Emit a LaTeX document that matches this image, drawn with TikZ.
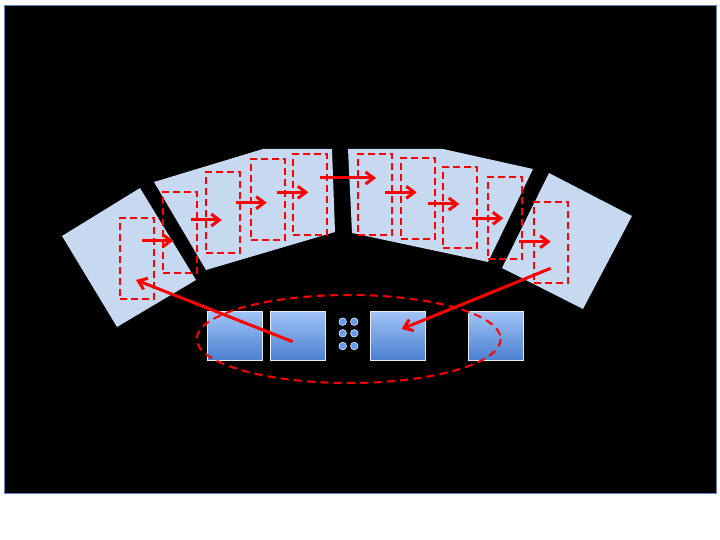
\documentclass[tikz,border=0pt]{standalone}
\usetikzlibrary{arrows.meta,positioning}
\definecolor{panelblue}{RGB}{198,217,240}
\definecolor{frameblue}{RGB}{95,130,190}
\definecolor{boxtop}{RGB}{162,196,246}
\definecolor{boxbot}{RGB}{74,128,208}
\definecolor{dotblue}{RGB}{105,155,232}
\begin{document}
\begin{tikzpicture}[x=1pt,y=-1pt,line join=miter,
	stage/.style={draw=red,dash pattern=on 7pt off 4pt,line width=2pt,minimum width=34pt,minimum height=81pt,inner sep=0pt},
	unit/.style={draw=white!85!gray,line width=1pt,top color=boxtop,bottom color=boxbot,minimum width=55pt,minimum height=49pt,inner sep=0pt},
	flow/.style={red,line width=3pt,-{Straight Barb[length=8pt,width=12pt]}}]
	\useasboundingbox[fill=white] (0,0) rectangle (720,540);
	\draw[frameblue,line width=1pt,fill=black] (4,6) rectangle (716,493);
	% panels
	\fill[panelblue] (62,236)--(140,188)--(196,280)--(117,327)--cycle;
	\fill[panelblue] (154,182)--(263,149)--(332,149)--(335,232)--(206,270)--cycle;
	\fill[panelblue] (348,149)--(443,149)--(533,169)--(488,262)--(352,233)--cycle;
	\fill[panelblue] (549,173)--(632,216)--(583,309)--(502,268)--cycle;
	% stages
	\foreach \x/\y [count=\i] in {136.7/258.8,180.3/232.8,223.3/212.8,268/199.2,309.5/194.5,374.8/194.5,417.5/198.7,459.5/207.5,504.7/218,551.3/242.5}
		\node[stage] (r\i) at (\x,\y) {};
	\foreach \xa/\xb/\y [count=\i] in {141.7/173.3/240.7,191/221.7/220,235.7/266.7/202.7,276.7/308.3/192.3,320/376/178,385/416.7/192.3,428.3/459.3/204,472.3/503.3/218.3,519.3/550.7/241.7}{
		\coordinate (a\i) at (\xa,\y);
		\coordinate (b\i) at (\xb,\y);
		\draw[flow] (a\i)--(b\i);
	}
	% units
	\node[unit] (u1) at (234.7,335.8) {};
	\node[unit] (u2) at (298.3,335.8) {};
	\node[unit] (u3) at (398.3,335.8) {};
	\node[unit] (u4) at (495.5,335.8) {};
	\foreach \x in {342.7,354.3}
		\foreach \y in {321.7,333.3,346}
			\draw[white!80!dotblue,fill=dotblue,line width=0.6pt] (\x,\y) circle(3.8);
	\draw[red,line width=2pt,dash pattern=on 8pt off 5.3pt] (348.7,339) ellipse[x radius=152,y radius=44];
	\draw[flow] ([shift={(-5.6,5.9)}]u2.center)--([shift={(-0.7,21.2)}]r1.center);
	\draw[flow] ([shift={(-0.6,25.8)}]r10.center)--([shift={(3.4,-6.8)}]u3.center);
\end{tikzpicture}
\end{document}
